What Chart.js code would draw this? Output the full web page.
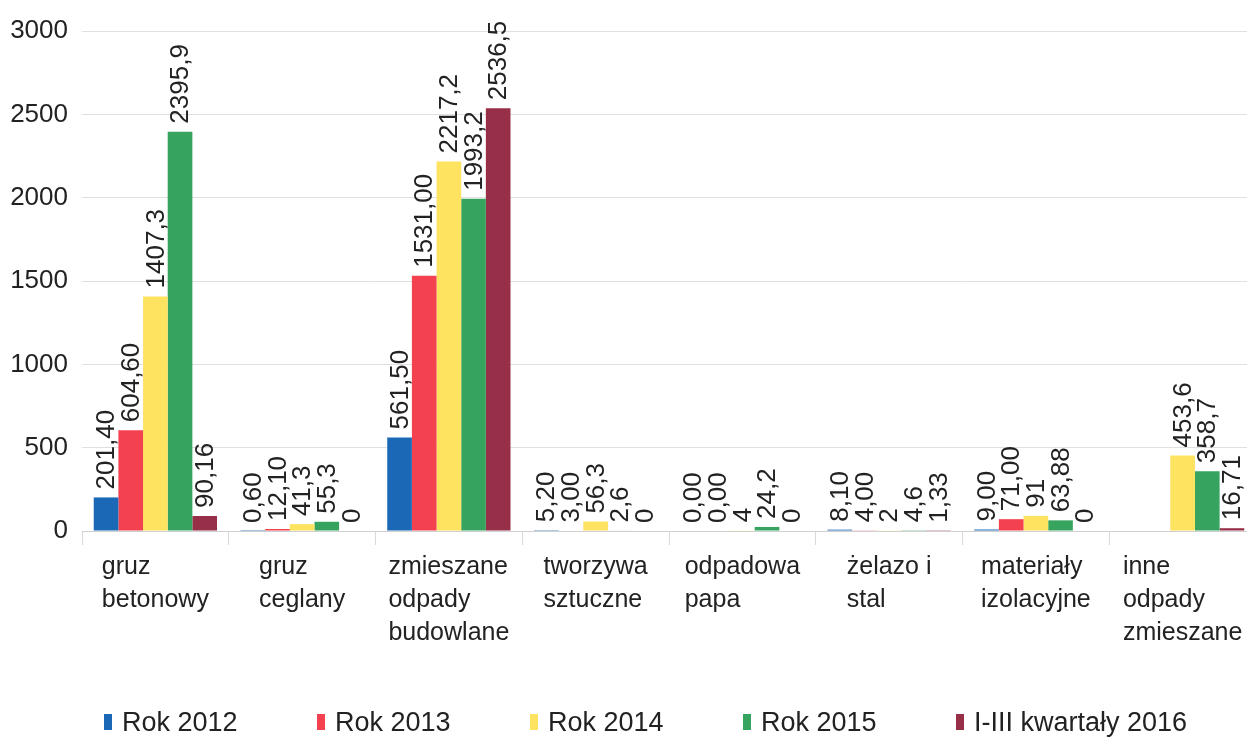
<!DOCTYPE html>
<html>
<head>
<meta charset="utf-8">
<script src="https://cdn.jsdelivr.net/npm/chart.js@4.4.1/dist/chart.umd.min.js"></script>
<style>
  body { margin: 0; overflow: hidden; background: #fff; font-family: "Liberation Sans", Arial, sans-serif; }
  #wrap { position: relative; width: 1256px; height: 742px; }
  #legend { position: absolute; left: 104px; top: 704px; display: flex; }
  #legend .item { width: 213px; flex-shrink: 0; display: flex; align-items: center; font-size: 27px; line-height: 36px; color: #222; white-space: nowrap; }
  #legend .box { width: 8px; height: 16px; margin-right: 10px; flex-shrink: 0; }
</style>
</head>
<body>
<div id="wrap">
  <canvas id="myChart" width="1256" height="742"></canvas>
  <div id="legend"></div>
</div>
<script>
const FONT = '"Liberation Sans", Arial, sans-serif';

const categories = [
  ['gruz', 'betonowy'],
  ['gruz', 'ceglany'],
  ['zmieszane', 'odpady', 'budowlane'],
  ['tworzywa', 'sztuczne'],
  ['odpadowa', 'papa'],
  ['żelazo i', 'stal'],
  ['materiały', 'izolacyjne'],
  ['inne', 'odpady', 'zmieszane'],
];
const seriesNames = ['Rok 2012', 'Rok 2013', 'Rok 2014', 'Rok 2015', 'I-III kwartały 2016'];

const rok2012 = [201.40, 0.60, 561.50, 5.20, 0.00, 8.10, 9.00, null];
const rok2013 = [604.60, 12.10, 1531.00, 3.00, 0.00, 4.00, 71.00, null];
const rok2014 = [1407.3, 41.3, 2217.2, 56.3, 4, 2, 91, 453.6];
const rok2015 = [2395.9, 55.3, 1993.2, 2.6, 24.2, 4.6, 63.88, 358.7];
const kw2016  = [90.16, 0, 2536.5, 0, 0, 1.33, 0, 16.71];

// decimals shown in the value labels (null = as is)
const labelDecimals = [2, 2, null, null, null];

const yMax = 3000;
const yStep = 500;

const colors = ['#1a68b6', '#f4414f', '#fde35f', '#36a45e', '#972f48'];

function fmt(v, dec) {
  const s = dec != null ? v.toFixed(dec) : String(v);
  return s.replace('.', ',');
}

const valueLabels = {
  id: 'valueLabels',
  afterDatasetsDraw(chart) {
    const ctx = chart.ctx;
    ctx.save();
    ctx.font = '26px ' + FONT;
    ctx.fillStyle = '#222';
    ctx.textAlign = 'left';
    ctx.textBaseline = 'middle';
    chart.data.datasets.forEach((ds, di) => {
      const meta = chart.getDatasetMeta(di);
      meta.data.forEach((el, i) => {
        const v = ds.data[i];
        if (v === null || v === undefined) return;
        ctx.save();
        ctx.translate(el.x, el.y - 8);
        ctx.rotate(-Math.PI / 2);
        ctx.fillText(fmt(v, ds.decimals), 0, 1);
        ctx.restore();
      });
    });
    ctx.restore();
  }
};

const catLabels = {
  id: 'catLabels',
  afterDraw(chart) {
    const ctx = chart.ctx;
    const x = chart.scales.x;
    const bottom = chart.chartArea.bottom;
    ctx.save();
    ctx.font = '25px ' + FONT;
    ctx.fillStyle = '#222';
    ctx.textAlign = 'left';
    ctx.textBaseline = 'middle';
    categories.forEach((lines, i) => {
      const cx = x.getPixelForValue(i);
      const w = Math.max(...lines.map(l => ctx.measureText(l).width));
      lines.forEach((l, j) => {
        ctx.fillText(l, cx - w / 2, bottom + 36 + j * 33);
      });
    });
    ctx.restore();
  }
};

const allSeries = [rok2012, rok2013, rok2014, rok2015, kw2016];

const ctx = document.getElementById('myChart').getContext('2d');
const chart = new Chart(ctx, {
  type: 'bar',
  data: {
    labels: categories.map(c => c.join(' ')),
    datasets: allSeries.map((d, i) => ({
      label: seriesNames[i],
      data: d,
      decimals: labelDecimals[i],
      backgroundColor: colors[i],
      borderWidth: 0,
      categoryPercentage: 0.84,
      barPercentage: 1.0,
    }))
  },
  options: {
    responsive: false,
    animation: false,
    layout: { padding: { top: 31, left: 0, right: 0, bottom: 0 } },
    plugins: {
      legend: { display: false },
      tooltip: { enabled: false },
    },
    scales: {
      x: {
        grid: { offset: true, drawOnChartArea: false, tickLength: 14, color: '#dadada' },
        border: { color: '#d0d0d0' },
        ticks: { display: false },
        afterFit: s => { s.height = 211; },
      },
      y: {
        min: 0,
        max: yMax,
        ticks: {
          stepSize: yStep,
          padding: 14,
          color: '#222',
          font: { size: 26, family: FONT },
          callback: v => String(v),
        },
        grid: { color: '#e0e0e0', drawTicks: false },
        border: { display: false },
        afterFit: s => { s.width = 82; },
      }
    }
  },
  plugins: [valueLabels, catLabels]
});

// html legend
const legendEl = document.getElementById('legend');
chart.data.datasets.forEach(ds => {
  const item = document.createElement('div');
  item.className = 'item';
  const box = document.createElement('span');
  box.className = 'box';
  box.style.background = ds.backgroundColor;
  item.appendChild(box);
  item.appendChild(document.createTextNode(ds.label));
  legendEl.appendChild(item);
});
</script>
</body>
</html>
